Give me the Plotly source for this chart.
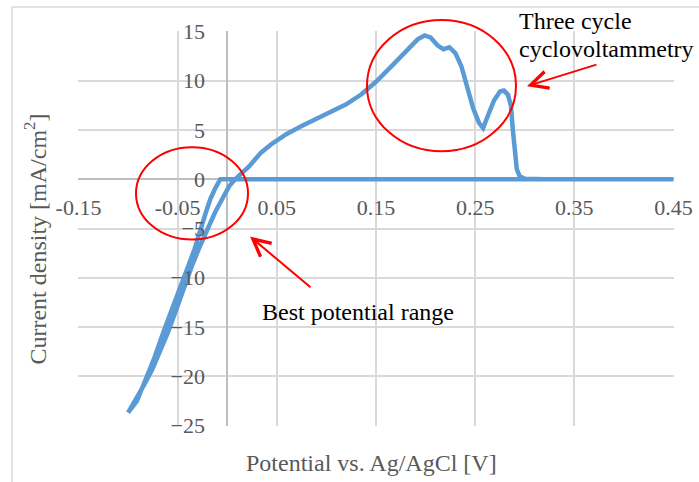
import plotly.graph_objects as go

# Forward scan (-0.10 V -> 0.45 V)
fwd_potential = [-0.100, -0.092, -0.084, -0.076, -0.068, -0.060, -0.052, -0.044, -0.036, -0.028,
                 -0.020, -0.012, -0.004, 0.002, 0.008, 0.015, 0.022, 0.028, 0.034, 0.045,
                 0.060, 0.075, 0.090, 0.105, 0.120, 0.135, 0.150, 0.165, 0.180, 0.192,
                 0.199, 0.205, 0.212, 0.218, 0.224, 0.230, 0.236, 0.242, 0.248, 0.254,
                 0.258, 0.263, 0.269, 0.275, 0.279, 0.283, 0.286, 0.288, 0.290, 0.292,
                 0.295, 0.300, 0.320, 0.450]
fwd_current = [-23.7, -22.4, -20.9, -19.4, -17.6, -15.6, -13.4, -11.1, -8.9, -6.9,
               -5.0, -3.3, -1.8, -0.7, 0.0, 0.6, 1.3, 2.0, 2.7, 3.6,
               4.6, 5.4, 6.1, 6.8, 7.6, 8.6, 9.9, 11.4, 13.0, 14.2,
               14.6, 14.4, 13.6, 13.2, 13.4, 12.8, 11.5, 9.3, 7.2, 5.7,
               5.2, 6.5, 8.0, 8.9, 9.0, 8.6, 7.5, 5.0, 2.5, 1.0,
               0.3, 0.05, 0.0, 0.0]

# Reverse scan (0.45 V -> -0.10 V)
rev_potential = [0.450, -0.007, -0.012, -0.017, -0.022, -0.027, -0.033, -0.040, -0.047, -0.055,
                 -0.064, -0.073, -0.082, -0.091, -0.100]
rev_current = [0.0, 0.0, -0.9, -2.0, -3.5, -5.2, -7.1, -9.0, -10.8, -13.0,
               -15.4, -18.0, -20.4, -22.5, -23.7]

x_ticks = [-0.15, -0.05, 0.05, 0.15, 0.25, 0.35, 0.45]
y_ticks = [-25, -20, -15, -10, -5, 0, 5, 10, 15]

potential = fwd_potential + rev_potential
current = fwd_current + rev_current

SERIF = "Liberation Serif"
GREY = "#595959"
GRID = "#D9D9D9"

fig = go.Figure()
fig.add_trace(go.Scatter(x=potential, y=current, mode="lines",
                         line=dict(color="#5B9BD5", width=4.5), showlegend=False,
                         hoverinfo="skip"))

fig.update_layout(
    width=699, height=482,
    margin=dict(l=78, r=25, t=31, b=56, autoexpand=False),
    paper_bgcolor="white", plot_bgcolor="white",
    font=dict(family=SERIF, color=GREY, size=22),
    xaxis=dict(range=[-0.1505, 0.4505], tickvals=x_ticks,
               ticktext=[f"{v:g}" for v in x_ticks],
               showgrid=True, gridcolor=GRID, gridwidth=1.5,
               zeroline=True, zerolinecolor="#BFBFBF", zerolinewidth=1.5,
               anchor="free", position=0.625, ticks="", ticklabelstandoff=13,
               automargin=False,
               tickfont=dict(family=SERIF, color=GREY, size=22), showline=False),
    yaxis=dict(range=[-25.05, 15.05], tickvals=y_ticks,
               showgrid=True, gridcolor=GRID, gridwidth=1.5,
               zeroline=True, zerolinecolor="#BFBFBF", zerolinewidth=1.5,
               anchor="free", position=0.25, ticks="", ticklabelstandoff=22,
               automargin=False,
               tickfont=dict(family=SERIF, color=GREY, size=22), showline=False),
)

def px2paper(px, py):
    return (px - 78) / 596, (426 - py) / 394

shapes = []
# outer chart frame
shapes.append(dict(type="rect", xref="paper", yref="paper",
                   x0=(12 - 78) / 596, y0=-0.3, x1=1.2, y1=(426 - 8) / 394,
                   line=dict(color=GRID, width=1.5), layer="below"))
# red ellipses
for (a, b, c, d) in [(136, 148, 248, 240), (367, 21, 516, 152)]:
    x0, y1 = px2paper(a, b)
    x1, y0 = px2paper(c, d)
    shapes.append(dict(type="circle", xref="paper", yref="paper",
                       x0=x0, y0=y0, x1=x1, y1=y1,
                       line=dict(color="#FF0000", width=2)))
fig.update_layout(shapes=shapes)

ann = []
# axis titles
x, y = px2paper(35, 240)
ann.append(dict(text="Current density [mA/cm<sup>2</sup>]", xref="paper", yref="paper",
                x=x, y=y, textangle=-90, showarrow=False,
                xanchor="center", yanchor="middle",
                font=dict(family=SERIF, size=24, color=GREY)))
x, y = px2paper(371, 463)
ann.append(dict(text="Potential vs. Ag/AgCl [V]", xref="paper", yref="paper",
                x=x, y=y, showarrow=False, xanchor="center", yanchor="middle",
                font=dict(family=SERIF, size=24, color=GREY)))
# callout texts
for txt, px, py in [("Three cycle", 517, 22), ("cyclovoltammetry", 517, 50)]:
    x, y = px2paper(px, py)
    ann.append(dict(text=txt, xref="paper", yref="paper", x=x, y=y,
                    xanchor="left", yanchor="middle", showarrow=False,
                    font=dict(family=SERIF, size=24, color="black")))
x, y = px2paper(358, 312)
ann.append(dict(text="Best potential range", xref="paper", yref="paper", x=x, y=y,
                xanchor="center", yanchor="middle",
                showarrow=False, font=dict(family=SERIF, size=24, color="black")))
# arrows
for tipx, tipy, tailx, taily in [(250, 237, 312, 289), (527, 87, 598, 65)]:
    x, y = px2paper(tipx, tipy)
    ann.append(dict(text="", xref="paper", yref="paper", x=x, y=y,
                    ax=tailx - tipx, ay=taily - tipy, showarrow=True,
                    arrowhead=5, arrowsize=1.7, arrowwidth=2, arrowcolor="#FF0000"))
fig.update_layout(annotations=ann)

fig.write_html("out.html", config={"displayModeBar": False},
               post_script="document.body.style.margin='0';document.body.style.overflow='hidden';")
